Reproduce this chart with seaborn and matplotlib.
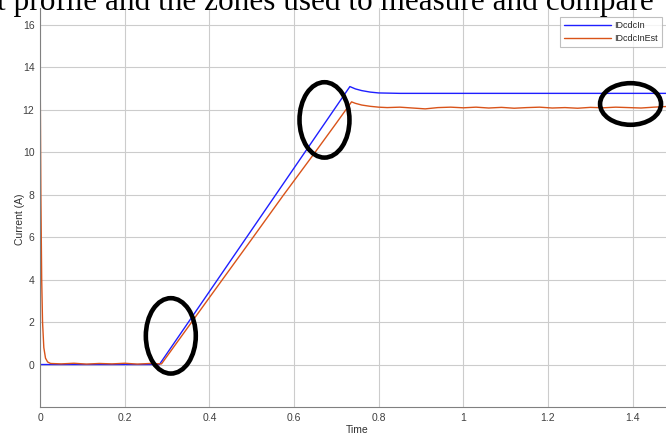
import matplotlib
matplotlib.use('Agg')
import matplotlib.pyplot as plt
from matplotlib.patches import Ellipse
import numpy as np
import seaborn as sns

t_meas = [0, 0.282, 0.732, 0.745, 0.76, 0.78, 0.80, 0.85, 1.5]
i_meas = [0, 0, 13.09, 12.98, 12.90, 12.83, 12.79, 12.77, 12.77]

# estimated current (orange)
t_est = [0, 0.002, 0.004, 0.006, 0.009, 0.013, 0.018, 0.025, 0.05, 0.08,
         0.11, 0.14, 0.17, 0.20, 0.23, 0.26, 0.287, 0.40, 0.50, 0.574,
         0.65, 0.70, 0.736, 0.745, 0.76, 0.78, 0.80, 0.82, 0.85, 0.88,
         0.91, 0.94, 0.97, 1.00, 1.03, 1.06, 1.09, 1.12, 1.15, 1.18,
         1.21, 1.24, 1.27, 1.30, 1.33, 1.36, 1.39, 1.42, 1.45, 1.48, 1.5]
i_est = [15.0, 8.0, 4.0, 2.0, 0.8, 0.3, 0.12, 0.05, 0.03, 0.06,
         0.02, 0.05, 0.03, 0.06, 0.02, 0.05, 0.03, 3.15, 5.9, 7.95,
         10.0, 11.37, 12.37, 12.30, 12.22, 12.16, 12.12, 12.10, 12.12, 12.08,
         12.04, 12.10, 12.12, 12.09, 12.12, 12.08, 12.11, 12.07, 12.10, 12.12,
         12.08, 12.10, 12.07, 12.11, 12.09, 12.12, 12.10, 12.08, 12.12, 12.15, 12.13]

# highlighted zones (centre t, centre I, width, height)
zones = [(0.309, 1.35, 0.118, 3.55),
         (0.672, 11.52, 0.118, 3.55),
         (1.395, 12.27, 0.144, 1.96)]

sns.set_style('white')
plt.rcParams['font.family'] = ['Liberation Sans', 'DejaVu Sans']

W, H = 666, 436
fig = plt.figure(figsize=(W / 100, H / 100), dpi=100)
left, right, top, bottom = 40, 675, 8, 407
ax = fig.add_axes([left / W, 1 - bottom / H, (right - left) / W, (bottom - top) / H])

sns.lineplot(x=t_meas, y=i_meas, ax=ax, color='#1f1fff', linewidth=1.0,
             label='IDcdcIn', estimator=None, sort=False)
sns.lineplot(x=t_est, y=i_est, ax=ax, color='#d95319', linewidth=1.0,
             label='IDcdcInEst', estimator=None, sort=False)

for cx, cy, w, h in zones:
    ax.add_patch(Ellipse((cx, cy), w, h, fill=False, edgecolor='black', linewidth=3.3, zorder=5))

ax.set_xlim(0, 1.5)
ax.set_ylim(-2, 16.79)
ax.set_xticks(np.arange(0, 1.5, 0.2))
ax.set_xticklabels(['0', '0.2', '0.4', '0.6', '0.8', '1', '1.2', '1.4'])
ax.set_yticks(np.arange(0, 17, 2))
ax.grid(True, color='#cccccc', linewidth=0.8)
ax.tick_params(direction='in', length=4, colors='#4d4d4d', labelsize=7.5, pad=4,
               labelcolor='#404040')
for s in ['top', 'right']:
    ax.spines[s].set_visible(False)
for s in ['left', 'bottom']:
    ax.spines[s].set_color('#808080')
    ax.spines[s].set_linewidth(0.8)

ax.set_xlabel('Time', fontsize=7.5, color='#303030', labelpad=2)
ax.set_ylabel('Current (A)', fontsize=7.5, color='#303030')
ax.yaxis.set_label_coords(-0.024, 0.47)

leg = ax.legend(loc='upper right', bbox_to_anchor=((662 - left) / (right - left), 1 - (17 - top) / (bottom - top)),
                fontsize=6.5, frameon=True, fancybox=False, handlelength=5.2,
                borderaxespad=0, borderpad=0.45, labelspacing=0.45, handletextpad=0.4)
leg.get_frame().set_edgecolor('#b0b0b0')
leg.get_frame().set_linewidth(0.8)

fig.text(-0.004, 1 - 10 / H, 't profile and the zones used to measure and compare',
         family='Liberation Serif', fontsize=22.5, va='baseline', ha='left', color='black')

fig.savefig('out.png', dpi=100)
